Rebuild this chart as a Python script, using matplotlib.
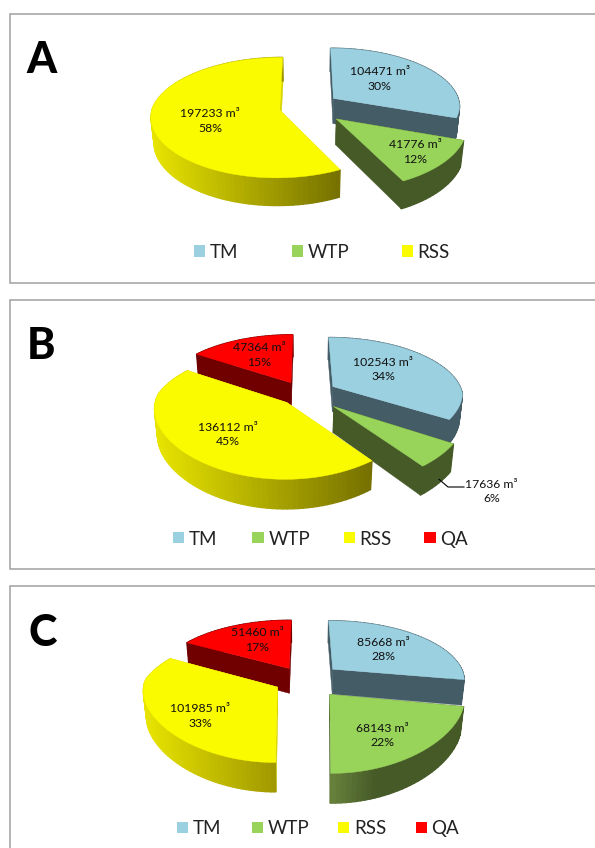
"""
Three exploded 3D pie charts (A, B, C) drawn on one pixel-sized axes.
"""
import numpy as np
import matplotlib
matplotlib.use('Agg')
import matplotlib.pyplot as plt
from matplotlib.colors import to_rgb
from matplotlib.patches import Polygon, Rectangle

plt.rcParams['font.family'] = ['Lato', 'DejaVu Sans']

# data
names = ['TM', 'WTP', 'RSS', 'QA']
values_a = [104471, 41776, 197233]
values_b = [102543, 17636, 136112, 47364]
values_c = [85668, 68143, 101985, 51460]
percent_a = [30, 12, 58]
percent_b = [34, 6, 45, 15]
percent_c = [28, 22, 33, 17]

# colours
top_colors = {'TM': '#9bd0e0', 'WTP': '#98d35a', 'RSS': '#fbfb00', 'QA': '#fe0000'}
cut_colors = {'TM': '#445c66', 'WTP': '#465a28', 'RSS': '#d8d400', 'QA': '#700000'}
side_stops = {
    'TM': ['#445c66', '#445c66'],
    'WTP': ['#465a28', '#465a28'],
    'RSS': ['#e8e400', '#757000'],
    'QA': ['#700000', '#700000'],
}

# layout of each panel, in pixels
panels = [
    dict(letter='A', values=values_a, percent=percent_a, frame=(14, 283), letter_xy=(26, 73),
         center=(307, 107), rx=127, ry=58.5, depth=26, k=0.126, kx=0.1, explode=[0.26, 0.3, 0.22], order=[0, 1, 2],
         label_xy=[(379.5, 79), (415.5, 152), (210, 121)],
         swatch_x=[193.5, 291.5, 401.5], legend_y=251),
    dict(letter='B', values=values_b, percent=percent_b, frame=(300, 569), letter_xy=(27, 359),
         center=(304, 394), rx=130, ry=60, depth=26, k=0.175, kx=0.09, explode=[0.26, 0.3, 0.19, 0.22], order=[0, 3, 1, 2],
         label_xy=[(383, 369.5), (491.5, 491.5), (227.7, 434.5), (259, 355)],
         swatch_x=[172.7, 252.4, 343.5, 424], legend_y=537.7),
    dict(letter='C', values=values_c, percent=percent_c, frame=(586, 860), letter_xy=(28, 646),
         center=(304, 680), rx=133, ry=60, depth=26, k=0.17, kx=0.05, explode=[0.29, 0.3, 0.23, 0.23], order=[0, 3, 1, 2],
         label_xy=[(383, 649.5), (382.5, 735.5), (200.4, 716), (257.3, 640)],
         swatch_x=[176.5, 251.6, 337.8, 415.6], legend_y=827.3),
]
side_override = {('C', 'WTP'): ['#68823c', '#465a28', '#465a28', '#465a28'],
                 ('C', 'RSS'): ['#e8e400', '#a09800']}


def project(p, theta, r, z, off):
    # perspective: far points shrink, the underside shrinks a little too
    wx = off[0] + r * np.sin(theta)
    wy = off[1] + r * np.cos(theta)
    s = 1 / (1 + p['k'] * wy + 0.02 * z)
    sx = 1 / (1 + np.where(wy > 0, p['k'], p['kx']) * wy + 0.02 * z)
    x = p['center'][0] + p['rx'] * wx * sx
    y = p['center'][1] - p['ry'] * wy * s + p['depth'] * z * s
    return np.column_stack([x, y])


def ramp(stops, t):
    rgb = np.array([to_rgb(c) for c in stops])
    pos = np.linspace(0, 1, len(stops))
    return [np.interp(t, pos, rgb[:, i]) for i in range(3)]


def draw_slice(ax, p, name, start, end, explode, zorder):
    mid = (start + end) / 2
    off = (explode * np.sin(mid), explode * np.cos(mid))
    theta = np.linspace(start, end, max(int(np.degrees(end - start) / 2), 4))
    top = project(p, theta, 1, 0, off)
    bottom = project(p, theta, 1, 1, off)
    apex_top = project(p, np.array([mid]), 0, 0, off)
    apex_bottom = project(p, np.array([mid]), 0, 1, off)

    # the two flat cut faces
    for a, b in ((top[0], bottom[0]), (top[-1], bottom[-1])):
        ax.add_patch(Polygon([apex_top[0], a, b, apex_bottom[0]], closed=True,
                             fc=cut_colors[name], ec=cut_colors[name], lw=0.3, zorder=zorder))
    # outer rim, one small quad per step for the gradient
    stops = side_override.get((p['letter'], name), side_stops[name])
    x_lo, x_hi = top[:, 0].min(), top[:, 0].max()
    for i in range(len(theta) - 1):
        t = ((top[i, 0] + top[i + 1, 0]) / 2 - x_lo) / (x_hi - x_lo)
        col = ramp(stops, t)
        ax.add_patch(Polygon([top[i], top[i + 1], bottom[i + 1], bottom[i]], closed=True,
                             fc=col, ec=col, lw=1.0, zorder=zorder + 0.1))
    # top surface
    ax.add_patch(Polygon(np.vstack([apex_top, top]), closed=True, fc=top_colors[name],
                         ec=top_colors[name], lw=0.3, zorder=zorder + 0.2))


fig = plt.figure(figsize=(5.95, 8.48), dpi=100)
ax = fig.add_axes([0, 0, 1, 1])
ax.set_xlim(0, 595)
ax.set_ylim(848, 0)
ax.axis('off')

for p in panels:
    y0, y1 = p['frame']
    ax.add_patch(Rectangle((10, y0), 620, y1 - y0, fc='white', ec='#a0a0a0', lw=1.1, zorder=0))
    ax.text(p['letter_xy'][0], p['letter_xy'][1], p['letter'], fontsize=31, fontweight=900,
            color='black', ha='left', va='baseline')

    vals = np.array(p['values'], dtype=float)
    edges = np.concatenate([[0], np.cumsum(vals) / vals.sum() * 2 * np.pi])
    for rank, i in enumerate(p['order']):
        draw_slice(ax, p, names[i], edges[i], edges[i + 1], p['explode'][i], 2 + rank)

    for i, v in enumerate(p['values']):
        lx, ly = p['label_xy'][i]
        ax.text(lx, ly, f"{v} m³\n{p['percent'][i]}%", fontsize=8.8, color='#111111', ha='center',
                va='center', linespacing=1.4, zorder=20)

    for i, sx in enumerate(p['swatch_x']):
        ax.add_patch(Rectangle((sx, p['legend_y'] - 5.8), 11.5, 11.5, fc=top_colors[names[i]], ec='none', zorder=5))
        ax.text(sx + 16, p['legend_y'], names[i], fontsize=13.5, color='#222222', ha='left', va='center_baseline')

# leader line for the small WTP slice in panel B
ax.plot([439, 448, 464], [479.3, 487, 487], color='black', lw=0.8, zorder=20)

fig.savefig('out.png', dpi=100)
plt.close(fig)
